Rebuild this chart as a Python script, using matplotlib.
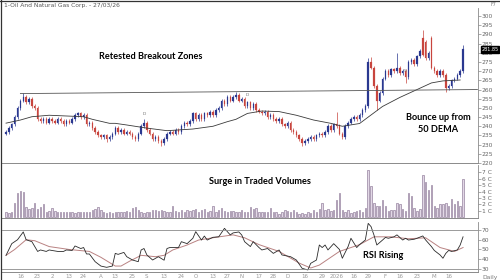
import matplotlib
matplotlib.use("Agg")
import matplotlib.pyplot as plt
from matplotlib.lines import Line2D

title = "1-Oil And Natural Gas Corp. - 27/03/26"

opens = [236,237,239,241,245,250,254,256,253,255,
         251,250,244,243,244,242,244,243,242,244,
         243,241,243,242,244,246,247,245,246,241,
         242,239,237,235,234,235,233,234,236,239,
         237,238,236,237,236,234,233,236,240,242,
         238,236,233,234,232,231,233,236,237,236,
         238,237,240,242,241,243,247,244,246,244,
         247,246,248,246,249,250,254,252,256,254,
         256,257,254,255,251,253,250,252,249,248,
         247,248,245,246,244,243,244,241,240,242,
         238,237,235,233,231,232,233,234,233,235,
         236,235,237,240,238,241,240,236,234,240,
         242,244,245,244,246,249,251,275,272,262,
         254,258,266,270,268,271,270,272,269,270,
         267,275,276,274,278,288,286,277,288,272,
         270,268,270,268,261,262,265,266,268,270]

closes = [237,239,241,245,250,254,256,253,255,251,
          250,244,243,244,242,244,243,242,244,243,
          241,243,242,244,246,247,245,246,241,242,
          239,237,235,234,235,233,234,236,239,237,
          238,236,237,236,234,233,236,240,242,238,
          236,233,234,232,231,233,236,237,236,238,
          237,240,242,241,243,247,244,246,244,247,
          246,248,246,249,250,254,252,256,254,256,
          257,254,255,251,253,250,252,249,248,247,
          248,245,246,244,243,244,241,240,242,238,
          237,235,233,231,232,233,234,233,235,236,
          235,237,240,238,241,240,236,234,240,242,
          244,245,244,246,249,251,275,272,262,254,
          258,266,270,268,271,270,272,269,270,267,
          275,276,274,278,281,279,277,280,272,270,
          268,270,268,261,262,265,266,268,270,282]

upper_wick = [1,1,1,1,1,1,2,1,1,1, 1,1,1,1,1,1,1,1,1,1,
              1,1,1,1,1,1,1,1,1,1, 1,1,1,1,1,1,1,1,1,1,
              1,1,1,1,1,1,1,1,2,1, 1,1,1,1,1,1,1,1,1,1,
              1,1,1,1,1,1,1,1,1,1, 1,1,1,1,1,1,1,1,1,1,
              1.5,1,1,1,1,1,1,1,1,1, 1,1,1,1,1,1,1,1,1,1,
              1,1,1,1,1,1,1,1,1,1, 1,1,1,1,1,7,1,1,1,1,
              1,1,1,1,1,1,2,2.5,1,1, 1,1,1,1,1,1,8,1,1,1,
              1,1,1,1,1,4.5,1,1,1,1, 1,1,1,1,1,1,1,1,1,2]

lower_wick = [1,1,1,1,1,1,1,1,1,1, 1,1,1,1,1,1,1,1,1,1,
              1,1,1,1,1,1,1,1,1,1, 1,1,1,1,1,1.5,1,1,1,1,
              1,1,1,1,1,1,1,1,1,1, 1,1,1,1,1.5,1,1,1,1,1,
              1,1,1,1,1,1,1,1,1,1, 1,1,1,1,1,1,1,1,1,1,
              1,1,1,1,1,1,1,1,1,1, 1,1,1,1,1,1,1,1,1,1,
              1,1,1,2,1,1,1,1,1,1, 1,1,1,1,1,1,1,1,1,1,
              1,1,1,1,1,1,1,1,1,5, 1,1,1,1,1,1,1,1,1,3.5,
              1,1,1,1,1,1,1,1,1,1, 1,1,1,2.3,1,1,1,1,1,1]

volume = [0.8,0.7,0.8,2.2,3.7,4.1,4.0,1.6,1.3,1.5,
          2.2,1.3,1.6,2.0,0.9,1.0,1.4,1.0,0.9,0.9,
          0.8,0.9,0.8,0.9,0.7,0.9,0.8,0.8,0.9,0.8,
          1.1,1.3,1.6,1.1,0.8,0.7,0.8,0.7,0.8,0.9,
          0.8,0.9,1.0,0.8,1.4,1.6,1.1,0.9,0.7,0.9,
          0.8,1.1,1.2,1.0,1.2,1.0,0.8,0.9,1.7,1.0,
          0.9,1.1,0.8,1.2,1.0,1.1,1.3,0.9,1.1,1.3,
          0.8,1.0,1.7,0.9,1.1,1.4,1.0,0.9,1.0,1.0,
          0.8,0.9,1.2,0.8,0.9,1.6,1.3,1.4,0.9,0.8,
          0.8,0.9,1.5,0.9,0.8,0.6,0.9,1.2,1.0,0.8,
          1.1,0.9,0.6,0.7,0.6,0.8,0.7,1.2,0.9,1.3,
          2.2,1.2,1.3,1.0,1.2,2.7,3.7,1.2,0.8,1.2,
          0.7,0.8,1.0,1.1,0.9,1.5,7.3,4.9,2.3,1.8,
          1.7,2.7,1.8,1.0,1.1,1.2,2.2,2.0,1.3,1.0,
          3.7,3.3,1.5,1.0,1.3,6.5,5.4,4.2,5.0,1.8,
          1.5,2.0,2.0,2.2,1.7,2.9,2.0,2.5,1.8,6.0]

dema_idx = [0,5,9,15,21,27,30,36,38,42,49,56,65,72,77,80,84,89,95,101,107,113,117,123,126,131,137,143,148,152,158]
dema_val = [241.7,243.4,245.2,246,245.6,245.2,243.8,241.6,241.6,240.7,239,237.6,238.5,240,242.5,243.8,247,248.3,248,246,243.4,241.6,240,241.5,245,250.8,255.7,260,263.6,264.7,265.2]

trend_idx = [5, 164]
trend_val = [257.8, 260.0]

rsi_idx = [0,2,4,6,7,8,9,11,12,14,15,18,20,21,23,24,26,27,28,29,31,33,35,37,38,39,41,42,44,46,47,48,49,51,53,55,56,57,60,61,63,65,66,68,69,70,72,74,76,77,78,79,81,82,83,85,86,88,89,91,93,95,96,99,101,103,105,106,108,109,110,111,112,114,116,117,119,120,122,123,125,126,127,128,129,131,132,133,135,136,138,139,140,142,143,145,146,148,149,151,152,153,154,155,157,158,159]
rsi_val = [44,56,60,68,60,59,58,48,49.5,48,49.5,48,48,49.5,49,53.6,51,52,45.4,45.4,37.5,33,31.7,33,46,45,47,42.6,39.2,37.5,49.5,51,44.4,39.2,42.6,39,51,52,52,58,56,61.5,68.3,59.7,63.8,59.7,62.5,63,71.7,68.3,65,67,68,64.9,58,53,58,52,49.5,51,46,49.5,44.4,42.6,39.2,30.7,29,35.8,39.2,54.6,52,54.6,49.5,56,50,41,53,61.5,52,55,59.7,76.8,73.4,64.9,54.6,59.7,62.4,61.5,63,65,59.7,61.5,59.7,60.5,61.5,63.9,59.7,53,49,44.4,41,46,49,48,49.5,54.6,63]

sig_idx = [0,3,7,10,15,22,29,33,38,40,43,47,52,55,58,63,67,73,79,83,88,95,102,106,109,116,123,128,134,140,146,151,156,159]
sig_val = [44,50,60,59,53,50,48,42,33,33,38,44,42.6,44,49.5,54.6,59.7,62.5,65,62,55,48,36,31,34,48,55,63,63,61,62,52,48,52]

xtick_idx = [5,11,16,22,27,33,38,44,49,55,61,66,72,77,82,88,93,98,104,110,115,121,126,132,137,143,149,154]
xtick_lbl = ["16","23","2","13","24","A","13","25","S","13","24","O","13","27",
             "N","17","28","D","16","29","2026","16","29","F","16","23","M","16"]

price_ticks = list(range(220, 305, 5))
vol_ticks = [1, 2, 3, 4, 5, 6, 7]
vol_labels = ["1 C", "2 C", "3 C", "4 C", "5 C", "6 C", "7 C"]
rsi_ticks = [30, 40, 50, 60, 70]
last_price = "281.85"

UP = "#2a3890"
DOWN = "#c8453e"
GRID = "#8a8a8a"
TXT = "#666666"

fig = plt.figure(figsize=(5, 2.8), dpi=100)
W, H = 500.0, 280.0

def rect(x0, y0, x1, y1):
    return [x0 / W, 1 - y1 / H, (x1 - x0) / W, (y1 - y0) / H]

ax_p = fig.add_axes(rect(2, 8, 478, 163))
ax_v = fig.add_axes(rect(2, 165, 478, 218))
ax_r = fig.add_axes(rect(2, 222, 478, 272))

xl = (-1.4, 164.2)
for ax in (ax_p, ax_v, ax_r):
    ax.set_xlim(*xl)
    ax.set_facecolor("white")
    for s in ("top", "left"):
        ax.spines[s].set_visible(False)
    ax.spines["right"].set_color(GRID)
    ax.spines["right"].set_linewidth(0.6)
    ax.spines["bottom"].set_color(GRID)
    ax.spines["bottom"].set_linewidth(0.7)
    ax.yaxis.tick_right()
    ax.tick_params(axis="y", length=2, width=0.5, color=GRID, labelsize=4.3,
                   labelcolor=TXT, pad=0.8)
    ax.tick_params(axis="x", length=0, labelsize=4, labelcolor="#999999", pad=1.5)
    ax.set_xticks([])

# price panel
n = len(closes)
idx = list(range(n))
for i in idx:
    o, c = opens[i], closes[i]
    col = UP if c >= o else DOWN
    hi = max(o, c) + upper_wick[i]
    lo = min(o, c) - lower_wick[i]
    ax_p.vlines(i, lo, hi, color=col, linewidth=0.5)
    ax_p.bar(i, max(abs(c - o), 0.4), bottom=min(o, c), width=0.5, color=col,
             edgecolor=col, linewidth=0.15)
ax_p.plot(dema_idx, dema_val, color="#3a3a3a", linewidth=0.6)
ax_p.plot(trend_idx, trend_val, color="#555555", linewidth=0.6)
ax_p.set_ylim(220, 304.4)
ax_p.set_yticks(price_ticks)
ax_p.set_yticklabels([str(t) for t in price_ticks])
ax_p.text(48, closes[48] + upper_wick[48] + 2.2, "D", fontsize=3.2, color="#777777", ha="center")
ax_p.text(84, closes[84] + 3.5, "D", fontsize=3.2, color="#777777", ha="center")
ax_p.text(139, closes[139] + 2.5, "S", fontsize=3.2, color="#777777", ha="center")

# volume panel
ax_v.bar(idx, volume, width=0.5, color="#e2d8e6", edgecolor="#8c7796", linewidth=0.45)
ax_v.set_ylim(-0.08, 8.08)
ax_v.set_yticks(vol_ticks)
ax_v.set_yticklabels(vol_labels)

# RSI panel
ax_r.plot(sig_idx, sig_val, color="#b98282", linewidth=0.7)
ax_r.plot(rsi_idx, rsi_val, color="#2a2a2a", linewidth=0.6)
ax_r.axhline(70, color=GRID, linewidth=0.6)
ax_r.axhline(30, color=GRID, linewidth=0.6)
ax_r.set_ylim(26.9, 78.2)
ax_r.set_yticks(rsi_ticks)
ax_r.set_yticklabels([str(t) for t in rsi_ticks])
ax_r.set_xticks(xtick_idx)
ax_r.set_xticklabels(xtick_lbl)

# frame lines
fig.add_artist(Line2D([0.002, 0.002], [0, 1], transform=fig.transFigure, color="#333333", linewidth=0.9))
fig.add_artist(Line2D([0, 1], [0.997, 0.997], transform=fig.transFigure, color="#333333", linewidth=0.9))

fig.text(4 / W, 1 - 3 / H, title, fontsize=4.3, color="#555555", va="top", ha="left")
fig.text(496 / W, 1 - 2 / H, "F7", fontsize=3.5, color="#777777", va="top", ha="right")
fig.text(490 / W, 1 - 49.5 / H, last_price, fontsize=3.5, color="white", va="center", ha="center",
         bbox=dict(boxstyle="square,pad=0.15", fc="black", ec="black"))
fig.text(490 / W, 1 - 277 / H, "Daily", fontsize=4.3, color="#777777", va="center", ha="center")

bold = dict(family=["Lato", "DejaVu Sans"], fontweight="bold", color="black", fontsize=6.6)
fig.text(151 / W, 1 - 57 / H, "Retested Breakout Zones", ha="center", va="center", **bold)
fig.text(438 / W, 1 - 123.5 / H, "Bounce up from\n50 DEMA", ha="center", va="center",
         linespacing=1.3, **bold)
fig.text(260 / W, 1 - 181 / H, "Surge in Traded Volumes", ha="center", va="center", **bold)
fig.text(383 / W, 1 - 256 / H, "RSI Rising", ha="center", va="center", **bold)

fig.savefig("out.png", dpi=100, facecolor="white")
